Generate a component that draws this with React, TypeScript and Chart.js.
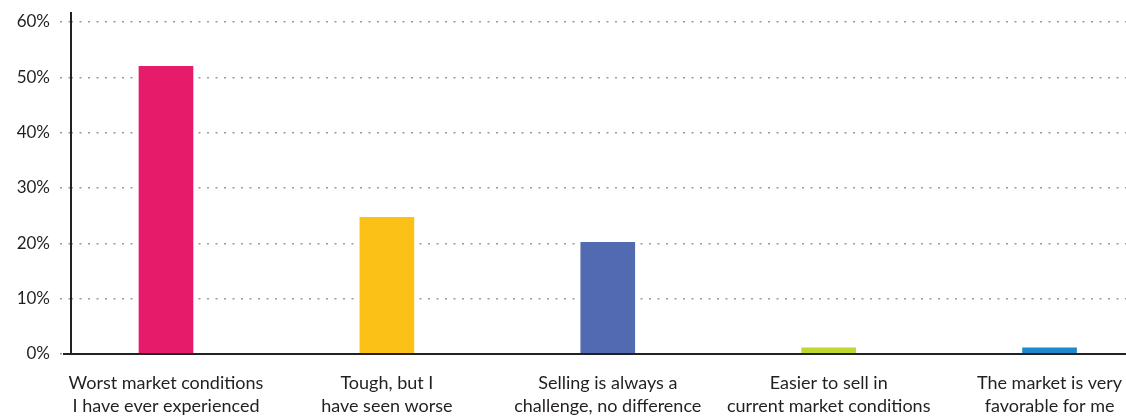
import React, { useEffect, useRef } from "react";
import { Chart, registerables } from "chart.js";

Chart.register(...registerables);

const categories: string[][] = [
  ["Worst market conditions", "I have ever experienced"],
  ["Tough, but I", "have seen worse"],
  ["Selling is always a", "challenge, no difference"],
  ["Easier to sell in", "current market conditions"],
  ["The market is very", "favorable for me"],
];
const values: number[] = [52, 24.7, 20.2, 1.1, 1.1];
const barColors: string[] = ["#E61C6B", "#FBC117", "#516AB2", "#C0D631", "#1F88CA"];
const yTicks: number[] = [0, 10, 20, 30, 40, 50, 60];

const TEXT = "#231F20";
const FONT = "Lato, 'Open Sans', sans-serif";

const axisLines = {
  id: "axisLines",
  afterDatasetsDraw(chart: any) {
    const { ctx, chartArea } = chart;
    ctx.save();
    ctx.strokeStyle = "#222";
    ctx.lineWidth = 2;
    ctx.beginPath();
    ctx.moveTo(chartArea.left, chartArea.top - 10);
    ctx.lineTo(chartArea.left, chartArea.bottom + 1);
    ctx.stroke();
    ctx.beginPath();
    ctx.moveTo(chartArea.left - 8, chartArea.bottom);
    ctx.lineTo(chartArea.right, chartArea.bottom);
    ctx.stroke();
    ctx.restore();
  },
};

export default function App() {
  const ref = useRef<HTMLCanvasElement | null>(null);
  useEffect(() => {
    if (!ref.current) return;
    const chart = new Chart(ref.current, {
      type: "bar",
      data: {
        datasets: [
          {
            data: values.map((v, i) => ({ x: i, y: v })),
            backgroundColor: barColors,
            borderWidth: 0,
            barThickness: 54,
          },
        ],
      },
      plugins: [axisLines],
      options: {
        animation: false,
        responsive: true,
        maintainAspectRatio: false,
        layout: { padding: { top: 22, right: 0, left: 0, bottom: 0 } },
        plugins: { legend: { display: false }, tooltip: { enabled: false } },
        scales: {
          x: {
            type: "linear",
            offset: false,
            min: -0.43,
            max: 4.346,
            afterBuildTicks: (scale: any) => {
              scale.ticks = categories.map((_, i) => ({ value: i }));
            },
            afterFit: (scale: any) => {
              scale.height = 62;
              scale.paddingLeft = 0;
              scale.paddingRight = 0;
            },
            grid: { display: false },
            border: { display: false },
            ticks: {
              autoSkip: false,
              maxRotation: 0,
              minRotation: 0,
              padding: 10,
              color: TEXT,
              font: { family: FONT, size: 18, lineHeight: 1.27 },
              callback: (v: any) => categories[Math.round(Number(v))] ?? "",
            },
          },
          y: {
            min: 0,
            max: 60,
            afterBuildTicks: (scale: any) => {
              scale.ticks = yTicks.map((v) => ({ value: v }));
            },
            afterFit: (scale: any) => {
              scale.width = 71;
            },
            border: { display: false, dash: [2, 6.5] },
            grid: {
              color: "#9a9a9a",
              lineWidth: 1.5,
              tickBorderDash: [2, 6.5],
              tickLength: 11,
              drawTicks: true,
            },
            ticks: {
              padding: 10,
              color: TEXT,
              font: { family: FONT, size: 17 },
              callback: (v: any) => `${v}%`,
            },
          },
        },
      },
    });
    return () => chart.destroy();
  }, []);
  return (
    <div style={{ position: "fixed", left: 0, top: 0, width: 1126, height: 416, background: "#fff" }}>
      <canvas ref={ref} />
    </div>
  );
}
